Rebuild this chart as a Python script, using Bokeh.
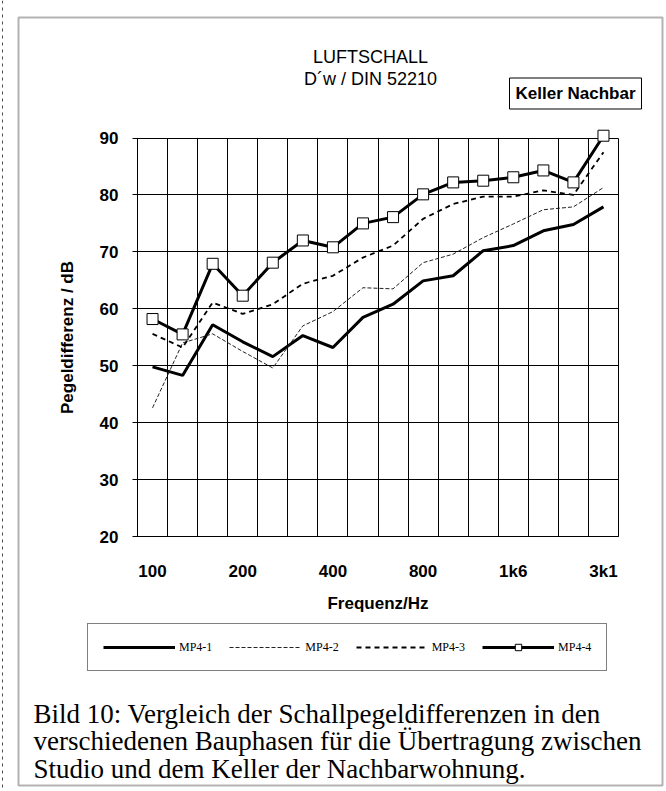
from bokeh.plotting import figure
from bokeh.models import (FixedTicker, Range1d, Label, Legend, LegendItem, BoxAnnotation,
                          LinearAxis, Grid, Span)
from bokeh.embed import file_html
from bokeh.resources import INLINE

# ---- data (third-octave bands) ----
freqs = ["100", "125", "160", "200", "250", "315", "400", "500",
         "630", "800", "1000", "1250", "1600", "2000", "2500", "3150"]
tick_positions = [0, 3, 6, 9, 12, 15]
tick_labels = ["100", "200", "400", "800", "1k6", "3k1"]
y_ticks = [20, 30, 40, 50, 60, 70, 80, 90]

mp4_1 = [49.8, 48.3, 57.2, 54.2, 51.6, 55.3, 53.2, 58.5,
         60.8, 64.9, 65.8, 70.2, 71.1, 73.7, 74.8, 77.9]
mp4_2 = [42.6, 54.0, 55.6, 52.5, 49.6, 57.0, 59.5, 63.7,
         63.5, 68.1, 69.6, 72.5, 74.9, 77.4, 77.9, 81.3]
mp4_3 = [55.6, 53.2, 61.1, 59.1, 60.8, 64.4, 65.8, 69.0,
         71.1, 75.8, 78.4, 79.7, 79.7, 80.8, 80.0, 87.5]
mp4_4 = [58.2, 55.5, 67.9, 62.3, 68.1, 72.0, 70.8, 75.0,
         76.1, 80.1, 82.2, 82.5, 83.1, 84.3, 82.2, 90.4]

x = list(range(len(freqs)))
Y_MIN, Y_MAX = 20, 90

# ---- layout (picture pixels) ----
W, H = 666, 791
PL, PR, PT, PB = 137, 618, 137.5, 536      # chart area

def sx(px):
    return px

def sy(py):
    return H - py

n = len(freqs)
ux = (PR - PL) / n
uy = (PB - PT) / (Y_MAX - Y_MIN)
x_start = -0.5 - PL / ux
x_end = n - 0.5 + (W - PR) / ux
y_end = Y_MAX + PT / uy
y_start = Y_MIN - (H - PB) / uy

SANS = "Liberation Sans"
SERIF = "Liberation Serif"

p = figure(width=W, height=H, output_backend="svg", toolbar_location=None, title=None,
           x_range=Range1d(x_start, x_end), y_range=Range1d(y_start, y_end),
           x_axis_type=None, y_axis_type=None, min_border=0)
p.min_border_left = p.min_border_right = p.min_border_top = p.min_border_bottom = 0
p.background_fill_color = "white"
p.border_fill_color = "white"
p.outline_line_color = None

# ---- grid, limited to the chart area ----
x_bounds = [i - 0.5 for i in range(n + 1)]
if "cross_bounds" in Grid.properties():
    gx = Grid(dimension=0, ticker=FixedTicker(ticks=x_bounds), cross_bounds=(Y_MIN, Y_MAX))
    gy = Grid(dimension=1, ticker=FixedTicker(ticks=y_ticks), cross_bounds=(-0.5, n - 0.5))
    for g in (gx, gy):
        g.grid_line_color = "black"
        g.grid_line_width = 1
        p.add_layout(g)
else:
    p.segment(x0=x_bounds, x1=x_bounds, y0=[Y_MIN] * len(x_bounds), y1=[Y_MAX] * len(x_bounds),
              line_color="black", line_width=1)
    p.segment(x0=[-0.5] * len(y_ticks), x1=[n - 0.5] * len(y_ticks), y0=y_ticks, y1=y_ticks,
              line_color="black", line_width=1)

# ---- axes drawn at the chart edges ----
yax = LinearAxis(fixed_location=-0.5, bounds=(Y_MIN, Y_MAX), ticker=FixedTicker(ticks=y_ticks))
yax.major_tick_in = 6
yax.major_tick_out = 5
yax.major_label_standoff = 14
yax.axis_label = "Pegeldifferenz / dB"
yax.axis_label_standoff = 20

xax = LinearAxis(fixed_location=Y_MIN, bounds=(-0.5, n - 0.5),
                 ticker=FixedTicker(ticks=tick_positions))
xax.major_label_overrides = {t: l for t, l in zip(tick_positions, tick_labels)}
xax.major_tick_in = 0
xax.major_tick_out = 0
xax.major_label_standoff = 25
xax.axis_label = "Frequenz/Hz"
xax.axis_label_standoff = 10

for ax in (xax, yax):
    ax.minor_tick_line_color = None
    ax.axis_line_color = "black"
    ax.axis_line_width = 1
    ax.major_tick_line_color = "black"
    ax.major_label_text_font = SANS
    ax.major_label_text_font_size = "17px"
    ax.major_label_text_font_style = "bold"
    ax.major_label_text_color = "black"
    ax.axis_label_text_font = SANS
    ax.axis_label_text_font_size = "17px"
    ax.axis_label_text_font_style = "bold"
    ax.axis_label_text_color = "black"
p.add_layout(yax, "left")
p.add_layout(xax, "below")

# ---- series ----
r1 = p.line(x, mp4_1, line_width=3, line_color="black")
r2 = p.line(x, mp4_2, line_width=1, line_color="#222222", line_dash="4 2")
r3 = p.line(x, mp4_3, line_width=1.8, line_color="black", line_dash="5 4")
r4 = p.line(x, mp4_4, line_width=3, line_color="black")
r4m = p.scatter(x, mp4_4, marker="square", size=11, fill_color="white",
                line_color="black", line_width=1)

legend = Legend(items=[LegendItem(label="MP4-1", renderers=[r1]),
                       LegendItem(label="MP4-2", renderers=[r2]),
                       LegendItem(label="MP4-3", renderers=[r3]),
                       LegendItem(label="MP4-4", renderers=[r4, r4m])],
                orientation="horizontal", location=(sx(87), sy(671)),
                glyph_width=72, glyph_height=16, label_standoff=4, spacing=17,
                padding=15, margin=0,
                label_text_font=SERIF, label_text_font_size="12px",
                label_text_color="black",
                border_line_color="black", border_line_width=1,
                background_fill_color="white", background_fill_alpha=1)
p.add_layout(legend)

# ---- titles ----
for txt, py in (("LUFTSCHALL", 56), ("D´w / DIN 52210", 78)):
    p.add_layout(Label(x=sx(370), y=sy(py), x_units="screen", y_units="screen", text=txt,
                       text_font=SANS, text_font_size="18px", text_align="center",
                       text_baseline="middle", text_color="black"))
p.add_layout(Label(x=sx(575), y=sy(93), x_units="screen", y_units="screen",
                   text="Keller Nachbar", text_font=SANS, text_font_size="17px",
                   text_font_style="bold", text_align="center", text_baseline="middle",
                   text_color="black", border_line_color="black", border_line_width=1,
                   background_fill_color="white", padding=6))

# ---- caption ----
caption = ["Bild 10: Vergleich der Schallpegeldifferenzen in den",
           "verschiedenen Bauphasen für die Übertragung zwischen",
           "Studio und dem Keller der Nachbarwohnung."]
for i, line in enumerate(caption):
    p.add_layout(Label(x=sx(33), y=sy(713 + 27.5 * i), x_units="screen", y_units="screen",
                       text=line, text_font=SERIF, text_font_size="27px",
                       text_baseline="alphabetic", text_color="black"))

# ---- outer frame of the figure and the scan edge ----
p.add_layout(BoxAnnotation(left=sx(18), right=sx(662), top=sy(17), bottom=sy(785),
                           left_units="screen", right_units="screen",
                           top_units="screen", bottom_units="screen",
                           fill_alpha=0, line_color="black", line_width=2))
p.add_layout(Span(location=sx(2), location_units="screen", dimension="height",
                  line_color="black", line_width=1, line_dash="3 4", line_alpha=0.7))

open("out.html", "w").write(file_html(p, INLINE))
